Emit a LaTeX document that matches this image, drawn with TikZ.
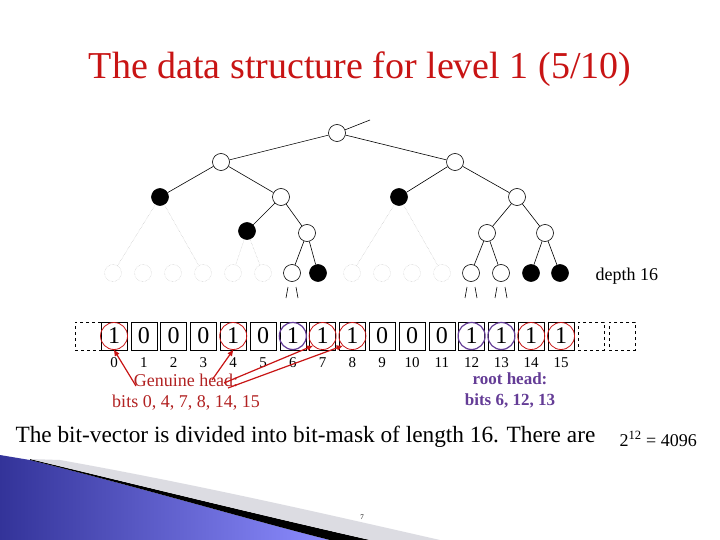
\documentclass[tikz,border=0pt]{standalone}
\usepackage{fontspec}
\setmainfont{Liberation Serif}
\usetikzlibrary{arrows.meta,calc}
\definecolor{tred}{RGB}{200,20,20}
\definecolor{gred}{RGB}{178,34,34}
\definecolor{rpur}{RGB}{100,60,150}
\begin{document}
\begin{tikzpicture}[x=1pt,y=-1pt,
  on/.style={circle,draw,semithick,fill=white,minimum size=17pt,inner sep=0pt},
  fn/.style={circle,draw,semithick,fill=black,minimum size=17pt,inner sep=0pt},
  dn/.style={circle,draw=gray!50,densely dotted,minimum size=17pt,inner sep=0pt},
  edge/.style={semithick},
  dedge/.style={gray!60,densely dotted},
  bitbox/.style={draw,minimum width=26pt,minimum height=28pt,inner sep=0pt,font=\fontsize{24}{24}\selectfont},
  dbox/.style={draw,dashed,minimum width=26pt,minimum height=28pt,inner sep=0pt},
  rc/.style={circle,draw=tred,thick,minimum size=27pt,inner sep=0pt},
  pc/.style={circle,draw=rpur,very thick,minimum size=27pt,inner sep=0pt},
  arr/.style={tred,very thick,-{Triangle[length=6pt,width=5pt]}}]
\useasboundingbox (0,0) rectangle (720,540);
\fill[white] (0,0) rectangle (720,540);
% bottom decoration
\shade[left color=blue!50!black!80,right color=blue!45!white] (0,455) -- (30,460) .. controls (150,490) and (250,520) .. (330,540) -- (0,540) -- cycle;
\fill[black] (30,459) .. controls (150,488) and (260,515) .. (370,540) -- (330,540) .. controls (250,520) and (150,490) .. (30,460) -- cycle;
\fill[blue!10!gray!25] (60,460) .. controls (200,485) and (330,515) .. (440,540) -- (370,540) .. controls (260,515) and (150,488) .. (30,459) -- cycle;
\node (pg) at (362,517) {\scriptsize 7};
% title
\node[text=tred,font=\fontsize{38}{42}\selectfont] (title) at (360,69) {The data structure for level 1 (5/10)};
% tree
\node[on] (r) at (337,133) {};
\coordinate (rt) at (370,120);
\node[on] (a) at (221,162) {};
\node[on] (b) at (455,162) {};
\node[fn] (a1) at (160,197) {};
\node[on] (a2) at (281,197) {};
\node[fn] (b1) at (399,197) {};
\node[on] (b2) at (517,197) {};
\node[fn] (a21) at (247,231) {};
\node[on] (a22) at (307,233) {};
\node[on] (b21) at (487,233) {};
\node[on] (b22) at (545,233) {};
\foreach \x [count=\i] in {113,143,173,203,233,263,352,382,412,442} \node[dn] (d\i) at (\x,273) {};
\node[on] (l1) at (292,273) {};
\node[fn] (l2) at (318,273) {};
\node[on] (l3) at (471,273) {};
\node[on] (l4) at (501,273) {};
\node[fn] (l5) at (531,273) {};
\node[fn] (l6) at (560,273) {};
\node[anchor=west,font=\fontsize{18}{20}\selectfont] (dep) at (592,276) {depth 16};
\draw[edge] (r) -- (rt);
\draw[edge] (r)--(a) (r)--(b) (a)--(a1) (a)--(a2) (b)--(b1) (b)--(b2)
  (a2)--(a21) (a2)--(a22) (b2)--(b21) (b2)--(b22)
  (a22)--(l1) (a22)--(l2) (b21)--(l3) (b21)--(l4) (b22)--(l5) (b22)--(l6);
\draw[dedge] (a1)--(d1) (a1)--(d4) (a21)--(d5) (a21)--(d6) (b1)--(d7) (b1)--(d10);
\foreach \n in {l1,l3,l4} {
  \coordinate (\n s1) at ($(\n)+(-4,14)$);
  \coordinate (\n e1) at ($(\n)+(-6,25)$);
  \coordinate (\n s2) at ($(\n)+(4,14)$);
  \coordinate (\n e2) at ($(\n)+(6,25)$);
  \draw[semithick] (\n s1)--(\n e1) (\n s2)--(\n e2);}
% bit vector
\node[dbox] (lb) at (88,336) {};
\foreach \v [count=\i from 0] in {1,0,0,0,1,0,1,1,1,0,0,0,1,1,1,1} {
  \node[bitbox] (bb\i) at ({114+29.8*\i},336) {\v};
  \node[font=\fontsize{15}{16}\selectfont] (lab\i) at ({114+29.8*\i},363) {\i};}
\node[dbox] (rb1) at (591,336) {};
\node[dbox] (rb2) at (622,336) {};
\foreach \i in {0,4,7,8,14,15} \node[rc] (c\i) at (bb\i) {};
\foreach \i in {6,12,13} \node[pc] (p\i) at (bb\i) {};
% labels
\node[text=gred,font=\fontsize{18}{21}\selectfont,align=center] (gh) at (186,392) {Genuine head:\\bits 0, 4, 7, 8, 14, 15};
\node[text=rpur,font=\bfseries\fontsize{17}{21}\selectfont,align=center] (rh) at (510,390) {root head:\\bits 6, 12, 13};
\coordinate (g0) at (136,386);
\coordinate (g4) at (212,380);
\coordinate (g7) at (224,383);
\coordinate (g8) at (228,388);
\draw[arr] (g0) -- (c0.south);
\draw[arr] (g4) -- (c4.south);
\draw[arr] (g7) -- (c7.south west);
\draw[arr] (g8) -- (c8.south west);
% bottom text
\node[anchor=west,font=\fontsize{23.3}{26}\selectfont] (bt) at (12,437) {The bit-vector is divided into bit-mask of length 16. There are};
\node[anchor=west,font=\fontsize{18}{22}\selectfont] (eq) at (616,439) {2\textsuperscript{12} = 4096};
\end{tikzpicture}
\end{document}
